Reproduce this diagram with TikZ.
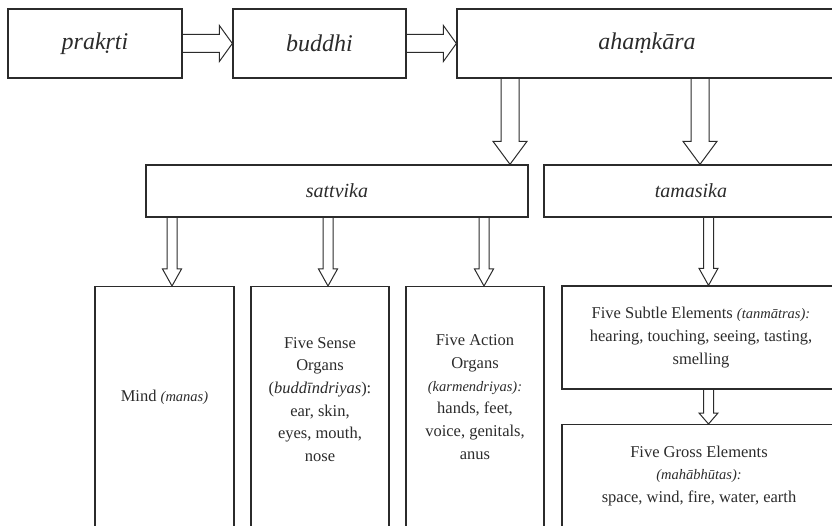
\documentclass[tikz,border=0pt]{standalone}
\usepackage{fontspec}
\setmainfont{Liberation Serif}
\usepackage{tikz}
\usetikzlibrary{calc,positioning}
\definecolor{ink}{HTML}{2B2B2B}
\newcommand{\skt}[1]{{\fontsize{14.5}{22.7}\selectfont\itshape #1}}
% hollow block arrows: from, to, half shaft, half head, head length
\newcommand{\fatdown}[5]{%
 \draw[hollow] let \p1=(#1), \p2=(#2) in
 (\x1-#3pt,\y1) -- (\x1-#3pt,\y2+#5pt) -- (\x1-#4pt,\y2+#5pt) -- (\x1,\y2)
 -- (\x1+#4pt,\y2+#5pt) -- (\x1+#3pt,\y2+#5pt) -- (\x1+#3pt,\y1);}
\newcommand{\fatright}[5]{%
 \draw[hollow] let \p1=(#1), \p2=(#2) in
 (\x1,\y1+#3pt) -- (\x2-#5pt,\y1+#3pt) -- (\x2-#5pt,\y1+#4pt) -- (\x2,\y1)
 -- (\x2-#5pt,\y1-#4pt) -- (\x2-#5pt,\y1-#3pt) -- (\x1,\y1-#3pt);}

\begin{document}
\begin{tikzpicture}[x=1pt,y=-1pt,
 box/.style={draw=ink,line width=1.3pt,inner sep=0pt,align=center,text=ink},
 toprow/.style={box,minimum height=69pt,font=\fontsize{24}{28}\selectfont\itshape},
 midrow/.style={box,minimum height=52pt,font=\fontsize{20}{24}\selectfont\itshape},
 col/.style={box,anchor=north,minimum height=270pt},
 txt/.style={align=center,text=ink,font=\fontsize{16.5}{22.7}\selectfont},
 hollow/.style={draw=ink,line width=1pt,line join=miter}]
\useasboundingbox (0,0) rectangle (832,526);

\node[toprow,minimum width=174pt] (prak) at (95,43.5) {prakṛti};
\node[toprow,minimum width=173pt] (budd) at (319.5,43.5) {buddhi};
\node[toprow,minimum width=380pt] (aham) at (647,43.5) {ahaṃkāra};

\node[midrow,minimum width=382pt] (sat) at (337,191) {sattvika};
\node[midrow,minimum width=294pt] (tam) at (691,191) {tamasika};

\node[col,minimum width=139pt] (mind) at (164.5,286) {};
\node[col,minimum width=138pt] (sense) at (320,286) {};
\node[col,minimum width=138pt] (action) at (475,286) {};
\node[box,txt,minimum width=278pt,minimum height=103pt] (subtle) at (701,337.5)
 {Five Subtle Elements \skt{(tanmātras):}\\hearing, touching, seeing, tasting,\\smelling};
\node[col,minimum width=278pt] (gross) at (701,424) {};

\node[txt] (mindtx) at (164.5,397) {Mind \skt{(manas)}};
\node[txt] (sensetx) at (320,399.5)
 {Five Sense\\Organs\\(\textit{buddīndriyas}):\\ear, skin,\\eyes, mouth,\\nose};
\node[txt] (actiontx) at (475,397)
 {Five Action\\Organs\\\skt{(karmendriyas):}\\hands, feet,\\voice, genitals,\\anus};
\node[txt] (grosstx) at (699,476)
 {Five Gross Elements\\\skt{(mahābhūtas):}\\space, wind, fire, water, earth};

\coordinate (a1) at (510,77.5);
\coordinate (a2) at (700,77.5);
\coordinate (s1) at (172,217);
\coordinate (s2) at (328,217);
\coordinate (s3) at (484,217);
\coordinate (t1) at (708.5,217);

\fatright{prak.east}{budd.west}{9}{18}{13}
\fatright{budd.east}{aham.west}{9}{18}{13}
\fatdown{a1}{a1 |- sat.north}{9}{17}{23}
\fatdown{a2}{a2 |- tam.north}{9}{17}{23}
\fatdown{s1}{s1 |- mind.north}{5}{9.5}{17}
\fatdown{s2}{s2 |- sense.north}{5}{9.5}{17}
\fatdown{s3}{s3 |- action.north}{5}{9.5}{17}
\fatdown{t1}{t1 |- subtle.north}{5}{9.5}{17}
\fatdown{t1 |- subtle.south}{t1 |- gross.north}{5}{9.5}{11}
\end{tikzpicture}
\end{document}
